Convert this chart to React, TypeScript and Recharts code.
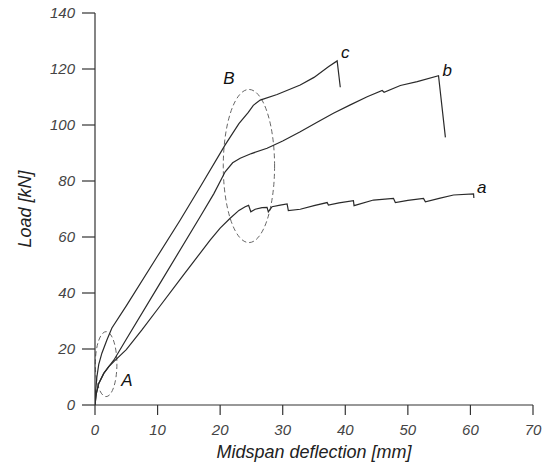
import React from 'react';
import { LineChart, Line, XAxis, YAxis, ReferenceArea, ReferenceDot } from 'recharts';

// Series a (lowest curve)
const aX = [0, 0.2, 0.6, 1.4, 2.2, 3, 5, 7.5, 10, 14, 18.4, 20, 21.6, 23, 24, 24.55, 24.9, 25.6, 26.7, 27.5, 27.7, 28.3, 29.6, 30.7, 30.9, 32.8, 35, 37.1, 37.3, 39, 41.3, 41.4, 44.5, 47.7, 48, 50, 52.5, 52.8, 55, 57.3, 60.5, 60.55];
const aY = [0, 4, 7.7, 11.3, 13.7, 15.5, 19.8, 26.8, 34.2, 46, 58.9, 63.2, 66.7, 69.5, 70.8, 71.3, 69, 69.9, 70.5, 70.6, 69, 70.8, 71.4, 71.8, 69.4, 69.9, 71.2, 72.3, 71.4, 72.2, 73, 71.2, 73.2, 73.8, 72.3, 73.1, 73.8, 72.6, 73.8, 75, 75.4, 73.9];

// Series b (middle curve)
const bX = [0, 0.2, 0.6, 1.4, 2.2, 3, 5, 10, 16.9, 19, 20.8, 22, 23.2, 25, 27.5, 30, 32.8, 35.5, 38.1, 40.8, 43.5, 45.9, 46.2, 48.8, 51.5, 54.9, 56];
const bY = [0, 4, 7.7, 11.3, 13.7, 16, 23.5, 42, 67.6, 75.5, 83.3, 86.5, 88.1, 89.8, 91.7, 94.3, 97.6, 101, 104.2, 107.2, 110.1, 112.3, 111.7, 114.1, 115.5, 117.6, 95.6];

// Series c (highest curve)
const cX = [0, 0.1, 0.3, 0.6, 1.1, 1.9, 2.7, 5, 10, 13.6, 16.9, 20.8, 23, 24.5, 25.3, 26.4, 29.1, 32.8, 35, 37.3, 38.7, 39.2];
const cY = [0, 5, 10, 14.5, 18.5, 23.2, 27.5, 35.4, 53.2, 66, 78.2, 92.9, 100.5, 104.5, 107, 108.9, 110.9, 114.3, 117, 120.8, 122.9, 113.5];

const xTicks = [0, 10, 20, 30, 40, 50, 60, 70];
const yTicks = [0, 20, 40, 60, 80, 100, 120, 140];

// Dashed ellipse regions [x1, x2, y1, y2]
const ellipseA = [0.05, 3.5, 3, 26.2];
const ellipseB = [20.5, 28.7, 58, 112.7];

// Annotation labels: [text, x, y]
const labels: [string, number, number][] = [
  ['a', 61.8, 78],
  ['b', 56.3, 119.6],
  ['c', 40.0, 126.2],
  ['B', 21.4, 116.7],
  ['A', 5.1, 8.9],
];

const zip = (xs: number[], ys: number[]) => xs.map((x, i) => ({ x, y: ys[i] }));
const dataA = zip(aX, aY);
const dataB = zip(bX, bY);
const dataC = zip(cX, cY);

const FONT = '"Liberation Sans", Arial, sans-serif';
const LINE = '#2a2a2a';

const EllipseShape = (props: any) => {
  const { x, y, width, height } = props;
  return (
    <ellipse
      cx={x + width / 2}
      cy={y + height / 2}
      rx={width / 2}
      ry={height / 2}
      fill="none"
      stroke="#666"
      strokeWidth={1}
      strokeDasharray="5 3"
    />
  );
};

const tickStyle = { fontFamily: FONT, fontSize: 15, fontStyle: 'italic', fill: '#444' };

export default function App() {
  return (
    <div style={{ position: 'absolute', left: 0, top: 0, background: '#fff' }}>
      <LineChart width={543} height={465} margin={{ top: 13, right: 10, bottom: 0, left: 0 }}>
        <XAxis
          type="number"
          dataKey="x"
          domain={[0, 70]}
          ticks={xTicks}
          allowDataOverflow
          height={60}
          tickSize={10}
          tickMargin={9}
          stroke="#333"
          strokeWidth={1.2}
          tick={tickStyle}
          label={{
            value: 'Midspan deflection [mm]',
            position: 'insideBottom',
            offset: 7,
            style: { fontFamily: FONT, fontSize: 18, fontStyle: 'italic', fill: '#222' },
          }}
        />
        <YAxis
          type="number"
          dataKey="y"
          domain={[0, 140]}
          ticks={yTicks}
          width={95}
          tickSize={13}
          tickMargin={7}
          stroke="#333"
          strokeWidth={1.2}
          tick={tickStyle}
          label={{
            value: 'Load [kN]',
            angle: -90,
            position: 'insideLeft',
            offset: 25,
            style: { fontFamily: FONT, fontSize: 18, fontStyle: 'italic', fill: '#222', textAnchor: 'middle' },
          }}
        />
        <ReferenceArea
          x1={ellipseA[0]}
          x2={ellipseA[1]}
          y1={ellipseA[2]}
          y2={ellipseA[3]}
          ifOverflow="visible"
          shape={<EllipseShape />}
        />
        <ReferenceArea
          x1={ellipseB[0]}
          x2={ellipseB[1]}
          y1={ellipseB[2]}
          y2={ellipseB[3]}
          ifOverflow="visible"
          shape={<EllipseShape />}
        />
        <Line data={dataA} dataKey="y" type="linear" stroke={LINE} strokeWidth={1.2} dot={false} isAnimationActive={false} />
        <Line data={dataB} dataKey="y" type="linear" stroke={LINE} strokeWidth={1.2} dot={false} isAnimationActive={false} />
        <Line data={dataC} dataKey="y" type="linear" stroke={LINE} strokeWidth={1.2} dot={false} isAnimationActive={false} />
        {labels.map(([t, x, y]) => (
          <ReferenceDot
            key={t}
            x={x}
            y={y}
            r={0}
            ifOverflow="visible"
            stroke="none"
            fill="none"
            label={{
              value: t,
              position: 'center',
              style: { fontFamily: FONT, fontSize: 17, fontStyle: 'italic', fill: '#111' },
            }}
          />
        ))}
      </LineChart>
    </div>
  );
}
